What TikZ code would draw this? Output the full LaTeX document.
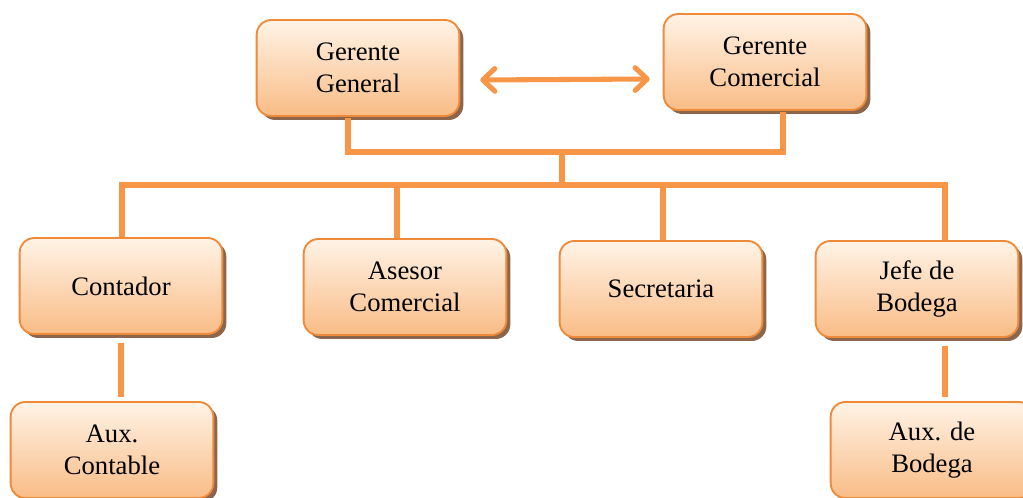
\documentclass[tikz,border=0pt]{standalone}
\usepackage{fontspec}
\setmainfont{Liberation Serif}
\definecolor{naranja}{HTML}{F79646}
\definecolor{bordecaja}{HTML}{EE8A3A}
\definecolor{claro}{HTML}{FFF3E6}
\definecolor{medio}{HTML}{F9BC86}
\definecolor{sombra}{HTML}{6E4020}
\usetikzlibrary{arrows.meta, shadows, calc, positioning}
\tikzset{
	caja/.style={rectangle, rounded corners=11pt, draw=bordecaja, line width=1.4pt,
		top color=claro, bottom color=medio, minimum width=152pt, minimum height=72pt,
		align=center, inner sep=0pt, font=\fontsize{20}{24}\selectfont,
		drop shadow={shadow xshift=3pt, shadow yshift=-3pt, fill=sombra, opacity=0.8}},
	linea/.style={draw=naranja, line width=4.2pt},
	flecha/.style={draw=naranja, line width=3.8pt, {Straight Barb[round, length=9pt, width=17pt]}-{Straight Barb[round, length=9pt, width=17pt]}}
}
\newcommand{\rama}[2]
{
	\draw[linea] ($ (#1.north)+(#2,0) $) |- (bus)
}

\begin{document}
\begin{tikzpicture}[x=0.75pt, y=-0.75pt]
	\useasboundingbox (0,0) rectangle (1023,498);
	% gerencia
	\node[caja] at (358,68) (gg) {Gerente\\General};
	\node[caja] at (765,62) (gc) {Gerente\\Comercial};
	% segundo nivel
	\node[caja] at (121,286) (cont) {Contador};
	\node[caja] at (405,287) (ases) {Asesor\\Comercial};
	\node[caja] at (661,289) (secr) {Secretaria};
	\node[caja] at (917,289) (jefe) {Jefe de\\Bodega};
	% auxiliares
	\node[caja] at (112,450) (auxc) {Aux.\\Contable};
	\node[caja] at (932,450) (auxb) {Aux. de\\Bodega};

	\coordinate (fa) at ($ (gg.east)+(20,12) $);
	\coordinate (fb) at ($ (gc.west)+(-13,17) $);
	\draw[flecha] (fa) -- (fb);

	\coordinate (sup) at (562,152);
	\coordinate (bus) at (562,185);
	\draw[linea, line cap=rect] ($ (gg.south)+(-10,4) $) |- (sup) -| ($ (gc.south)+(18,4) $);
	\draw[linea] (sup) -- (bus);
	\foreach \n/\d in {cont/1, ases/-8, secr/2, jefe/28}
		\rama{\n}{\d};

	\coordinate (jb) at ($ (jefe.south)+(28,0) $);
	\draw[linea, shorten <=6pt, shorten >=3pt] (cont.south) -- (cont.south |- auxc.north);
	\draw[linea, shorten <=6pt, shorten >=3pt] (jb) -- (jb |- auxb.north);
\end{tikzpicture}
\end{document}
